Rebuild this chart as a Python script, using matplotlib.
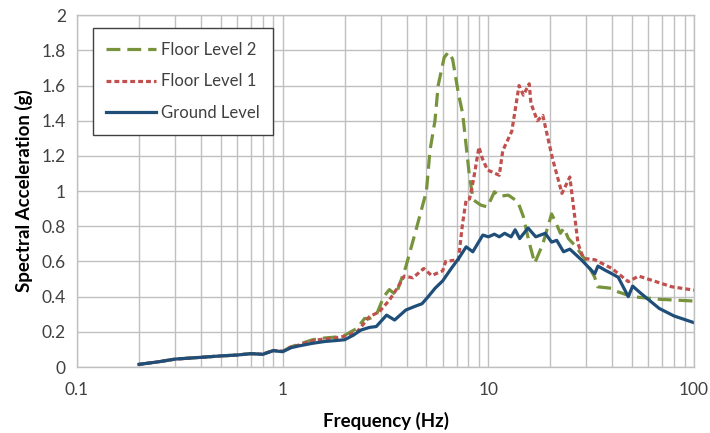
import numpy as np
import matplotlib
matplotlib.use("Agg")
from matplotlib import pyplot as plt
from matplotlib.ticker import FixedLocator, NullFormatter

plt.rcParams['font.family'] = ['Lato', 'DejaVu Sans']
plt.rcParams['lines.scale_dashes'] = False

# Ground level response spectrum
f_ground = [0.2, 0.25, 0.3, 0.4, 0.5, 0.6, 0.7, 0.8, 0.9, 1.0, 1.1, 1.2, 1.4, 1.6, 1.8,
            2.0, 2.2, 2.4, 2.64, 2.85, 3.2, 3.5, 3.97, 4.4, 4.76, 5.1, 5.5, 6.0, 6.6,
            7.2, 7.8, 8.4, 9.4, 10.0, 10.7, 11.3, 12.0, 12.9, 13.5, 14.2, 15.6, 17.0,
            18.9, 20.3, 21.5, 23.2, 24.9, 28.3, 32.9, 34.1, 37.0, 39.9, 42.8, 47.9,
            50.3, 55.0, 67.7, 80.0, 100.0]
sa_ground = [0.015, 0.03, 0.045, 0.055, 0.063, 0.068, 0.076, 0.072, 0.093, 0.087, 0.11,
             0.12, 0.135, 0.145, 0.15, 0.155, 0.18, 0.21, 0.225, 0.23, 0.295, 0.267,
             0.324, 0.345, 0.36, 0.40, 0.447, 0.49, 0.56, 0.62, 0.683, 0.655, 0.75,
             0.74, 0.755, 0.74, 0.76, 0.74, 0.78, 0.73, 0.79, 0.74, 0.76, 0.71, 0.72,
             0.655, 0.67, 0.61, 0.53, 0.574, 0.55, 0.53, 0.51, 0.40, 0.46, 0.42,
             0.333, 0.29, 0.252]

# Floor level 1
f_floor1 = [0.2, 0.25, 0.3, 0.4, 0.5, 0.6, 0.7, 0.8, 0.9, 1.0, 1.1, 1.2, 1.4, 1.6, 1.8,
            2.0, 2.3, 2.64, 2.95, 3.3, 3.6, 3.9, 4.3, 4.85, 5.3, 6.0, 6.2, 7.15, 7.5,
            7.8, 8.1, 8.45, 9.0, 9.35, 9.9, 11.3, 11.75, 13.0, 14.1, 14.8, 15.8, 16.1,
            17.3, 18.4, 20.5, 22.8, 24.9, 27.3, 28.8, 29.3, 32.9, 39.9, 47.9, 53.8,
            78.0, 100.0]
sa_floor1 = [0.015, 0.03, 0.045, 0.055, 0.063, 0.068, 0.076, 0.073, 0.094, 0.09, 0.115,
             0.125, 0.15, 0.16, 0.165, 0.175, 0.2, 0.286, 0.314, 0.38, 0.447, 0.517,
             0.507, 0.56, 0.52, 0.547, 0.6, 0.61, 0.82, 0.95, 0.955, 1.06, 1.25, 1.185,
             1.12, 1.09, 1.23, 1.34, 1.60, 1.545, 1.61, 1.50, 1.40, 1.43, 1.185, 0.987,
             1.08, 0.70, 0.627, 0.617, 0.61, 0.56, 0.485, 0.517, 0.456, 0.437]

# Floor level 2
f_floor2 = [0.2, 0.25, 0.3, 0.4, 0.5, 0.6, 0.7, 0.8, 0.9, 1.0, 1.1, 1.2, 1.4, 1.6, 1.8,
            2.0, 2.3, 2.5, 2.64, 2.85, 3.1, 3.3, 3.55, 3.97, 4.45, 5.0, 5.2, 5.5, 5.7,
            6.1, 6.4, 6.7, 7.15, 7.5, 8.1, 8.45, 9.2, 9.9, 10.7, 11.3, 12.5, 13.9,
            14.8, 15.7, 16.8, 18.4, 20.3, 21.3, 22.4, 23.3, 24.5, 26.4, 29.3, 32.9,
            34.0, 40.0, 42.0, 50.0, 67.7, 100.0]
sa_floor2 = [0.015, 0.03, 0.045, 0.055, 0.063, 0.068, 0.076, 0.073, 0.094, 0.09, 0.115,
             0.13, 0.155, 0.165, 0.17, 0.18, 0.22, 0.276, 0.275, 0.295, 0.40, 0.44,
             0.41, 0.57, 0.78, 1.0, 1.23, 1.40, 1.60, 1.76, 1.79, 1.75, 1.555, 1.44,
             1.08, 0.95, 0.92, 0.91, 0.996, 0.97, 0.977, 0.94, 0.855, 0.72, 0.59, 0.70,
             0.87, 0.82, 0.76, 0.79, 0.73, 0.69, 0.617, 0.51, 0.456, 0.447, 0.43,
             0.40, 0.385, 0.375]

y_ticks = [0, 0.2, 0.4, 0.6, 0.8, 1.0, 1.2, 1.4, 1.6, 1.8, 2.0]
y_tick_labels = ['0', '0.2', '0.4', '0.6', '0.8', '1', '1.2', '1.4', '1.6', '1.8', '2']
x_ticks = [0.1, 1, 10, 100]
x_tick_labels = ['0.1', '1', '10', '100']

green = '#77933c'
red = '#c0504d'
blue = '#1f4e79'
grid_col = '#c0c0c0'
text_col = '#404040'

fig = plt.figure(figsize=(7.1, 4.33), dpi=100)
ax = fig.add_axes([0.1085, 0.1524, 0.869, 0.8126])

ax.plot(f_floor2, sa_floor2, color=green, lw=2.3, dashes=(10, 5), label='Floor Level 2')
ax.plot(f_floor1, sa_floor1, color=red, lw=2.3, dashes=(3.5, 2.2), label='Floor Level 1')
ax.plot(f_ground, sa_ground, color=blue, lw=2.3, label='Ground Level')

ax.set_xscale('log')
ax.set_xlim(0.1, 100)
ax.set_ylim(0, 2)
ax.xaxis.set_major_locator(FixedLocator(x_ticks))
ax.set_xticklabels(x_tick_labels)
minor = [m * d for d in (0.1, 1, 10) for m in range(2, 10)]
ax.xaxis.set_minor_locator(FixedLocator(minor))
ax.xaxis.set_minor_formatter(NullFormatter())
ax.set_yticks(y_ticks)
ax.set_yticklabels(y_tick_labels)

ax.grid(True, which='both', axis='x', color=grid_col, lw=1.0)
ax.grid(True, which='major', axis='y', color=grid_col, lw=1.0)
ax.set_axisbelow(True)
for s in ax.spines.values():
    s.set_color(grid_col)
    s.set_linewidth(1.0)
ax.tick_params(which='both', length=0, labelsize=12.5, colors=text_col, pad=8)
ax.tick_params(axis='x', pad=11)

ax.set_xlabel('Frequency (Hz)', fontsize=13.5, fontweight='bold', labelpad=10)
ax.set_ylabel('Spectral Acceleration (g)', fontsize=13.5, fontweight='bold', labelpad=6)

leg = ax.legend(loc='upper left', bbox_to_anchor=(0.026, 0.963), fontsize=12,
                frameon=True, fancybox=False, edgecolor='#404040', framealpha=1,
                handlelength=3.0, labelspacing=0.95, borderpad=0.8, handletextpad=0.3,
                borderaxespad=0)
leg.get_frame().set_linewidth(1.0)
for t in leg.get_texts():
    t.set_color(text_col)

fig.savefig('out.png', dpi=100)
